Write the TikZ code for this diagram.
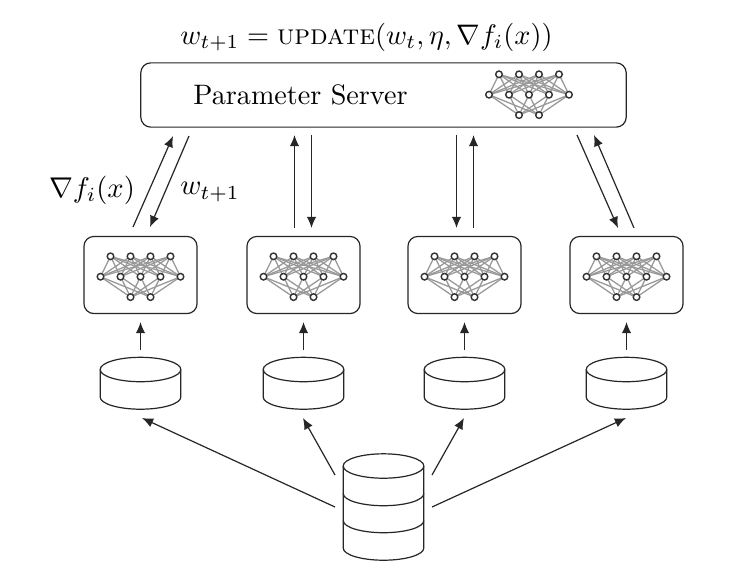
\documentclass[tikz,border=0pt]{standalone}
\usepackage{amsmath}
\usetikzlibrary{arrows.meta}
\tikzset{
  x=0.35pt,y=-0.35pt,
  box/.style={draw=black!85,line width=0.42pt,rounded corners=3.5pt,inner sep=0pt},
  conn/.style={draw=black!85,line width=0.42pt,-{Latex[length=3.9pt,width=3.3pt]}},
  nn/.style={circle,draw=black!80,fill=white,line width=0.5pt,minimum size=2.3pt,inner sep=0pt},
  nnedge/.style={draw=black!40,line width=0.45pt},
  dbshape/.style={draw=black!85,line width=0.42pt},
  pics/net/.style={code={
    \foreach \t in {-30,-10,10,30}{\foreach \m in {-40,-20,0,20,40}{
      \draw[nnedge] (\t,-20.4) -- (\m,0);}}
    \foreach \m in {-40,-20,0,20,40}{\foreach \b in {-10,10}{
      \draw[nnedge] (\m,0) -- (\b,20.4);}}
    \foreach \t in {-30,-10,10,30}{\node[nn] at (\t,-20.4) {};}
    \foreach \m in {-40,-20,0,20,40}{\node[nn] at (\m,0) {};}
    \foreach \b in {-10,10}{\node[nn] at (\b,20.4) {};}
  }},
  pics/smalldb/.style={code={
    \draw[dbshape] (-40.3,-14.5) arc[start angle=180,end angle=-180,x radius=40.3,y radius=12.2];
    \draw[dbshape] (-40.3,-14.5) -- (-40.3,13) arc[start angle=180,end angle=0,x radius=40.3,y radius=12.2] -- (40.3,-14.5);
  }},
  pics/bigdb/.style={code={
    \draw[dbshape] (-40.3,-41) arc[start angle=180,end angle=-180,x radius=40.3,y radius=12.2];
    \draw[dbshape] (-40.3,-41) -- (-40.3,41) arc[start angle=180,end angle=0,x radius=40.3,y radius=12.2] -- (40.3,-41);
    \draw[dbshape] (-40.3,-13.5) arc[start angle=180,end angle=0,x radius=40.3,y radius=12.2];
    \draw[dbshape] (-40.3,13.5) arc[start angle=180,end angle=0,x radius=40.3,y radius=12.2];
  }},
}
\begin{document}
\begin{tikzpicture}
\useasboundingbox[fill=white] (0,0) rectangle (743,585);
% server
\node[box,minimum width=169.9pt,minimum height=22.5pt] (server) at (383.5,95) {};
\node[scale=0.985] (servertext) at (300.5,95) {Parameter Server};
\pic at (529,94.7) {net};
\node[scale=0.99] (formula) at (366.5,37.5) {$w_{t+1}=\textsc{update}(w_t,\eta,\nabla f_i(x))$};
% workers
\foreach \n/\x in {1/140.5,2/303.5,3/464.5,4/626.5}{
  \node[box,minimum width=39.6pt,minimum height=27pt] (w\n) at (\x,275) {};
  \pic at (\x,276.7) {net};
  \pic at (\x,384) {smalldb};
  \coordinate (wb\n) at (\x,322);
  \coordinate (ds\n) at (\x,350);
  \draw[conn] (ds\n) -- (wb\n);
}
\pic at (383.5,507) {bigdb};
% arrows server <-> worker
\foreach \n/\ax/\ay/\bx/\by in {
  a/133/227/173/136, b/189/136/150/227,
  c/294.5/228/294.5/135, d/311.5/135/311.5/228,
  e/456.5/135/456.5/228, f/473.5/228/473.5/135,
  g/577/135/618/228, h/634/228/594/135}{
  \coordinate (\n1) at (\ax,\ay);
  \coordinate (\n2) at (\bx,\by);
  \draw[conn] (\n1) -- (\n2);
}
\node (grad) at (92,190) {$\nabla f_i(x)$};
\node (wlabel) at (210,192) {$w_{t+1}$};
% arrows big db -> small db
\foreach \n/\ax/\ay/\bx/\by in {
  p/335/507/142/418, q/335/475/303/418, r/432/475/464/418, s/432/507/626/418}{
  \coordinate (\n1) at (\ax,\ay);
  \coordinate (\n2) at (\bx,\by);
  \draw[conn] (\n1) -- (\n2);
}
\end{tikzpicture}
\end{document}
